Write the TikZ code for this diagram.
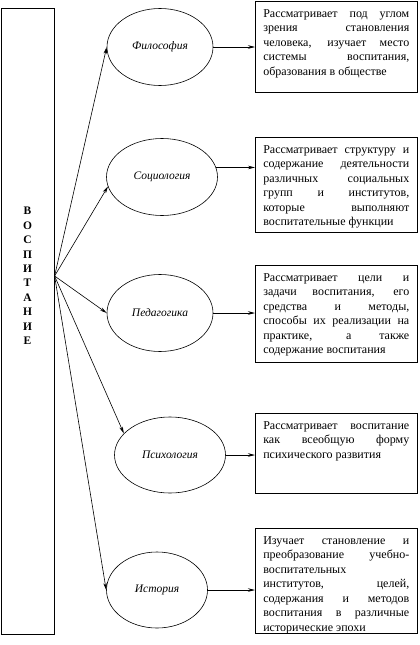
\documentclass[tikz,border=0pt]{standalone}
\usepackage{fontspec}
\setmainfont{Liberation Serif}
\usetikzlibrary{shapes.geometric, arrows.meta}
\newcommand{\desctext}[2]{\parbox[t][#1][t]{146pt}{\fontsize{12}{14.5}\selectfont #2}}

\begin{document}
\begin{tikzpicture}[x=1pt, y=-1pt,
  ebox/.style={draw, ellipse, line width=0.6pt, inner sep=0pt, font=\fontsize{11.5}{13}\selectfont\itshape},
  dbox/.style={draw, line width=0.6pt, anchor=north west, inner xsep=8pt, inner ysep=8pt},
  conn/.style={line width=0.6pt, -{Stealth[length=7pt, width=3.5pt]}}
]
  \useasboundingbox (0,0) rectangle (420,645);
  % left frame with the vertical word
  \node[draw, line width=0.6pt, anchor=north west, minimum width=53pt, minimum height=626pt, inner sep=0pt] (frame) at (1,8) {};
  \node[font=\fontsize{11.5}{14.4}\selectfont\bfseries, align=center] (word) at (27.5,276) {В\\О\\С\\П\\И\\Т\\А\\Н\\И\\Е};
  \coordinate (hub) at (frame.east |- word);

  % sciences
  \node[ebox, minimum width=106pt, minimum height=77pt] (ephil) at (160,47) {Философия};
  \node[ebox, minimum width=111pt, minimum height=77pt] (esoc) at (162,177) {Социология};
  \node[ebox, minimum width=106pt, minimum height=77pt] (eped) at (160,313) {Педагогика};
  \node[ebox, minimum width=111pt, minimum height=76pt] (epsy) at (170,455) {Психология};
  \node[ebox, minimum width=101pt, minimum height=76pt] (ehist) at (157,590) {История};

  % descriptions
  \node[dbox] (dphil) at (255,1) {\desctext{75pt}{Рассматривает под углом\linebreak зрения становления\linebreak человека, изучает место\linebreak системы воспитания,\linebreak образования в обществе}};
  \node[dbox] (dsoc) at (255,137) {\desctext{79pt}{Рассматривает структуру и\linebreak содержание деятельности\linebreak различных социальных\linebreak групп и институтов,\linebreak которые выполняют\linebreak воспитательные функции}};
  \node[dbox] (dped) at (255,265) {\desctext{81pt}{Рассматривает цели и\linebreak задачи воспитания, его\linebreak средства и методы,\linebreak способы их реализации на\linebreak практике, а также\linebreak содержание воспитания}};
  \node[dbox] (dpsy) at (255,413) {\desctext{64pt}{Рассматривает воспитание\linebreak как всеобщую форму\linebreak психического развития}};
  \node[dbox] (dhist) at (255,528) {\desctext{89pt}{Изучает становление и\linebreak преобразование учебно-\linebreak воспитательных\\ институтов, целей,\linebreak содержания и методов\linebreak воспитания в различные\linebreak исторические эпохи}};

  % connectors
  \draw[conn] (hub) -- (ephil.west);
  \draw[conn] (hub) -- (esoc.190);
  \draw[conn] (hub) -- (eped.west);
  \draw[conn] (hub) -- (epsy.155);
  \draw[conn] (hub) -- (ehist.west);
  \draw[conn] (ephil.east) -- (dphil.west |- ephil.east);
  \draw[conn] (esoc.10) -- (dsoc.west |- esoc.10);
  \draw[conn] (eped.east) -- (dped.west |- eped.east);
  \draw[conn] (epsy.east) -- (dpsy.west |- epsy.east);
  \draw[conn] (ehist.east) -- (dhist.west |- ehist.east);
\end{tikzpicture}
\end{document}
